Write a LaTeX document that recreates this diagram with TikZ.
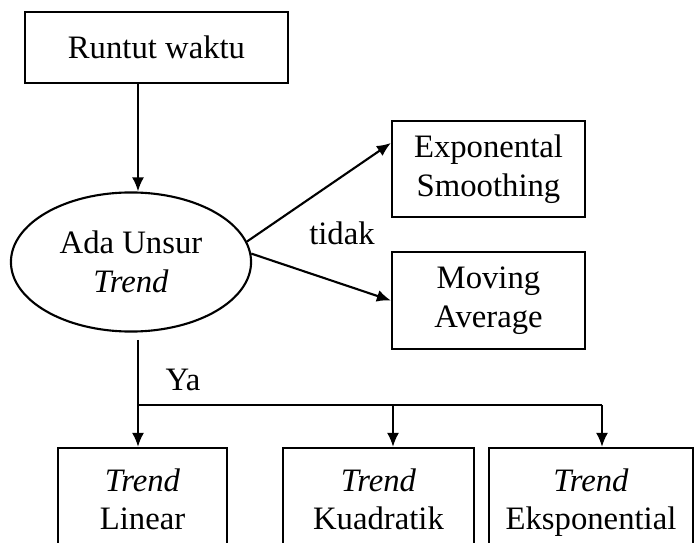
\documentclass[tikz,border=0pt]{standalone}
\usepackage{fontspec}
\setmainfont{Liberation Serif}
\usetikzlibrary{shapes.geometric,arrows.meta}

\begin{document}
\begin{tikzpicture}[x=0.01cm,y=-0.01cm,line width=0.6pt,
	every node/.style={font=\fontsize{9.3}{11}\selectfont},
	box/.style={draw,rectangle,align=center,inner sep=0pt},
	arr/.style={-{Latex[length=1.4mm,width=1.2mm]}}]
		\newcommand*{\boxH}{1.14cm}

		\clip (0,0) rectangle (697,543);

		\node[box,minimum width=2.63cm,minimum height=0.71cm] (runtut) at (156.5,47.5) {Runtut waktu};
		\node[ellipse,draw,align=center,inner sep=0pt,minimum width=2.4cm,minimum height=1.39cm] (adaunsur) at (131,262) {Ada Unsur\\\textit{Trend}};
		\node[box,minimum width=1.93cm,minimum height=0.96cm] (expo) at (488.5,169) {Exponental\\Smoothing};
		\node[box,minimum width=1.93cm,minimum height=0.97cm] (moving) at (488.5,300.5) {Moving\\Average};

		\node[box,minimum width=1.69cm,minimum height=\boxH] (linear) at (142.5,505) {\textit{Trend}\\Linear\strut};
		\node[box,minimum width=1.91cm,minimum height=\boxH] (kuadratik) at (378.5,505) {\textit{Trend}\\Kuadratik\strut};
		\node[box,minimum width=2.04cm,minimum height=\boxH] (eksponen) at (591,505) {\textit{Trend}\\Eksponential\strut};

		\node (tidak) at (342,233) {tidak};
		\node (ya) at (183,380) {Ya};

		\coordinate (stem) at (138,340);
		\coordinate (bus) at (138,405);
		\coordinate (kbranch) at (393,405);
		\coordinate (ebranch) at (602,405);

		\draw[arr] (stem |- runtut.south) -- (stem |- adaunsur.north);
		\draw[arr] (adaunsur.10) -- ([yshift=2.6mm]expo.west);
		\draw[arr] (adaunsur.4) -- (moving.west);

		\draw[arr] (stem) -- (stem |- linear.north);
		\draw (bus) -- (ebranch);
		\draw[arr] (kbranch) -- (kbranch |- kuadratik.north);
		\draw[arr] (ebranch) -- (ebranch |- eksponen.north);
\end{tikzpicture}
\end{document}
